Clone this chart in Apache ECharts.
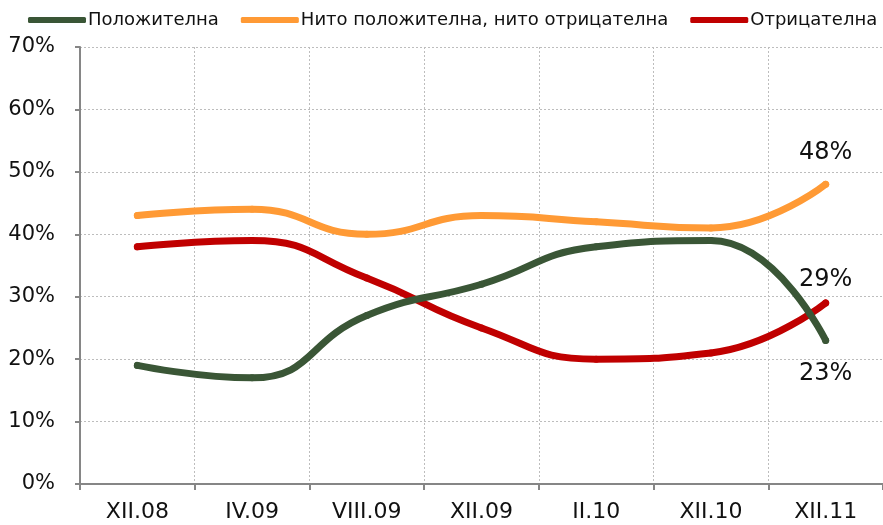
<!DOCTYPE html>
<html>
<head>
<meta charset="utf-8">
<script src="https://cdn.jsdelivr.net/npm/echarts@6/dist/echarts.min.js"></script>
<style>
html, body { margin: 0; padding: 0; background: #fff; }
#chart { width: 883px; height: 525px; }
</style>
</head>
<body>
<div id="chart"></div>
<script>
var categories = ['XII.08', 'IV.09', 'VIII.09', 'XII.09', 'II.10', 'XII.10', 'XII.11'];
var positive = [19, 17, 27, 32, 38, 39, 23];
var neutral = [43, 44, 40, 43, 42, 41, 48];
var negative = [38, 39, 33, 25, 20, 21, 29];
var seriesNames = ['Положителна', 'Нито положителна, нито отрицателна', 'Отрицателна'];
var colors = ['#3a5636', '#ff9a35', '#c00000'];
var font = '"DejaVu Sans", Verdana, sans-serif';

// label only the last point of each series
function withEndLabel(values, pos, dist) {
	return values.map(function(v, i){
		if (i !== values.length - 1) return v;
		return {
			value: v,
			label: {
				show: true,
				position: pos,
				distance: dist,
				formatter: '{c}%',
				fontFamily: font,
				fontSize: 24,
				color: '#111'
			}
		};
	});
}

function makeSeries(idx, values, pos, dist, z) {
	return {
		name: seriesNames[idx],
		type: 'line',
		smooth: 0.5,
		symbol: 'circle',
		symbolSize: 7,
		itemStyle: { color: colors[idx] },
		lineStyle: { width: 7, cap: 'round', color: colors[idx] },
		data: withEndLabel(values, pos, dist),
		z: z
	};
}

var chart = echarts.init(document.getElementById('chart'));

var option = {
	animation: false,
	color: colors,
	grid: {
		left: 80,
		right: -4,
		top: 47,
		bottom: 41,
		containLabel: false
	},
	legend: {
		top: 6,
		left: 23,
		itemWidth: 58,
		itemHeight: 6,
		itemGap: 22,
		icon: 'roundRect',
		textStyle: {
			fontFamily: font,
			fontSize: 18,
			color: '#111',
			padding: [0, 0, 0, -3]
		},
		data: seriesNames
	},
	xAxis: {
		type: 'category',
		data: categories,
		boundaryGap: true,
		axisLine: { lineStyle: { color: '#868686', width: 2 } },
		axisTick: { show: true, length: 6, lineStyle: { color: '#868686', width: 2 } },
		axisLabel: {
			margin: 17,
			fontFamily: font,
			fontSize: 22,
			color: '#111'
		},
		splitLine: {
			show: true,
			lineStyle: { color: '#bdbdbd', type: [2, 2], width: 1 }
		}
	},
	yAxis: {
		type: 'value',
		min: 0,
		max: 70,
		interval: 10,
		axisLine: { show: true, lineStyle: { color: '#868686', width: 2 } },
		axisTick: { show: true, length: 5, lineStyle: { color: '#868686', width: 2 } },
		axisLabel: {
			formatter: '{value}%',
			margin: 25,
			fontFamily: font,
			fontSize: 21,
			color: '#111'
		},
		splitLine: {
			show: true,
			lineStyle: { color: '#bdbdbd', type: [2, 2], width: 1 }
		}
	},
	series: [
		makeSeries(0, positive, 'bottom', 18, 4),
		makeSeries(1, neutral, 'top', 16, 2),
		makeSeries(2, negative, 'top', 8, 3)
	]
};

chart.setOption(option);
</script>
</body>
</html>
